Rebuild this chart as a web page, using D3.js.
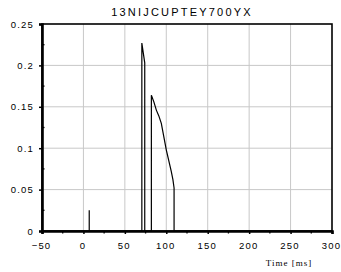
<!DOCTYPE html>
<html lang="en">
<head>
<meta charset="UTF-8">
<title>13NIJCUPTEY700YX</title>
<script src="https://cdn.jsdelivr.net/npm/d3@7"></script>
<style>
    body { margin: 0; background: #fff; }
    text { font-family: "Liberation Sans", Arial, sans-serif; }
    .tick text { font-size: 9.5px; letter-spacing: 1.2px; fill: #000; }
    .grid line { stroke: #c8c8c8; stroke-width: 1; }
</style>
</head>
<body>
<svg width="341" height="272"></svg>
<script>
    const title = "13NIJCUPTEY700YX";
    const xLabel = "Time [ms]";

    // trace (time in ms, value)
    const times  = [-50, 7, 7, 7, 70.5, 70.5, 74, 74, 82, 82, 85, 88, 91, 94, 97, 100, 103, 106, 108, 109.4, 109.4, 300];
    const values = [0, 0, 0.025, 0, 0, 0.227, 0.203, 0, 0, 0.164, 0.156, 0.146, 0.139, 0.13, 0.114, 0.098, 0.085, 0.072, 0.062, 0.052, 0, 0];

    const xTicks = [-50, 0, 50, 100, 150, 200, 250, 300];
    const yTicks = [0, 0.05, 0.1, 0.15, 0.2, 0.25];
    const xMinor = [-25, 25, 75, 125, 175, 225, 275];
    const yMinor = [0.025, 0.075, 0.125, 0.175, 0.225];

    const svg = d3.select("svg");
    const m = {left: 42, right: 332, top: 24, bottom: 231};

    const x = d3.scaleLinear().domain([-50, 300]).range([m.left, m.right]);
    const y = d3.scaleLinear().domain([0, 0.25]).range([m.bottom, m.top]);

    // grid
    const grid = svg.append("g").attr("class", "grid");
    grid.selectAll(".vx").data(xTicks.slice(1, -1)).enter().append("line")
        .attr("x1", d => x(d)).attr("x2", d => x(d))
        .attr("y1", m.top).attr("y2", m.bottom);
    grid.selectAll(".hy").data(yTicks.slice(1, -1)).enter().append("line")
        .attr("x1", m.left).attr("x2", m.right)
        .attr("y1", d => y(d)).attr("y2", d => y(d));

    // trace
    const pts = times.map((t, i) => [t, values[i]]);
    svg.append("path")
        .datum(pts)
        .attr("fill", "none")
        .attr("stroke", "#000")
        .attr("stroke-width", 1.2)
        .attr("d", d3.line().x(d => x(d[0])).y(d => y(d[1])));

    // frame
    svg.append("rect")
        .attr("x", m.left).attr("y", m.top)
        .attr("width", m.right - m.left).attr("height", m.bottom - m.top)
        .attr("fill", "none").attr("stroke", "#000").attr("stroke-width", 1.6);

    // axes
    const xAxis = svg.append("g")
        .attr("transform", `translate(0,${m.bottom})`)
        .call(d3.axisBottom(x).tickValues(xTicks).tickFormat(d3.format("d")).tickSize(3).tickPadding(4));
    const yAxis = svg.append("g")
        .attr("transform", `translate(${m.left},0)`)
        .call(d3.axisLeft(y).tickValues(yTicks).tickFormat(d => d === 0 ? "0" : String(d)).tickSize(3).tickPadding(5));
    [xAxis, yAxis].forEach(a => {
        a.select(".domain").attr("stroke", "#000").attr("stroke-width", 2.6);
        a.selectAll(".tick line").attr("stroke", "#000").attr("stroke-width", 1.5);
    });
    xAxis.selectAll(".tick text").attr("dy", "1.15em").attr("dx", "-1");

    svg.append("g").selectAll("line").data(xMinor).enter().append("line")
        .attr("x1", d => x(d)).attr("x2", d => x(d))
        .attr("y1", m.bottom).attr("y2", m.bottom + 2.5)
        .attr("stroke", "#000").attr("stroke-width", 1.3);
    svg.append("g").selectAll("line").data(yMinor).enter().append("line")
        .attr("x1", m.left).attr("x2", m.left + 2.5)
        .attr("y1", d => y(d)).attr("y2", d => y(d))
        .attr("stroke", "#000").attr("stroke-width", 1.3);

    // title
    svg.append("text")
        .attr("x", 182).attr("y", 16)
        .attr("text-anchor", "middle")
        .style("font-size", "11px").style("letter-spacing", "2.2px")
        .text(title);

    svg.append("text")
        .attr("x", 289).attr("y", 266)
        .attr("text-anchor", "middle")
        .style("font-family", "'Liberation Serif', 'Times New Roman', serif")
        .style("font-size", "9px").style("letter-spacing", "1px")
        .text(xLabel);
</script>
</body>
</html>
